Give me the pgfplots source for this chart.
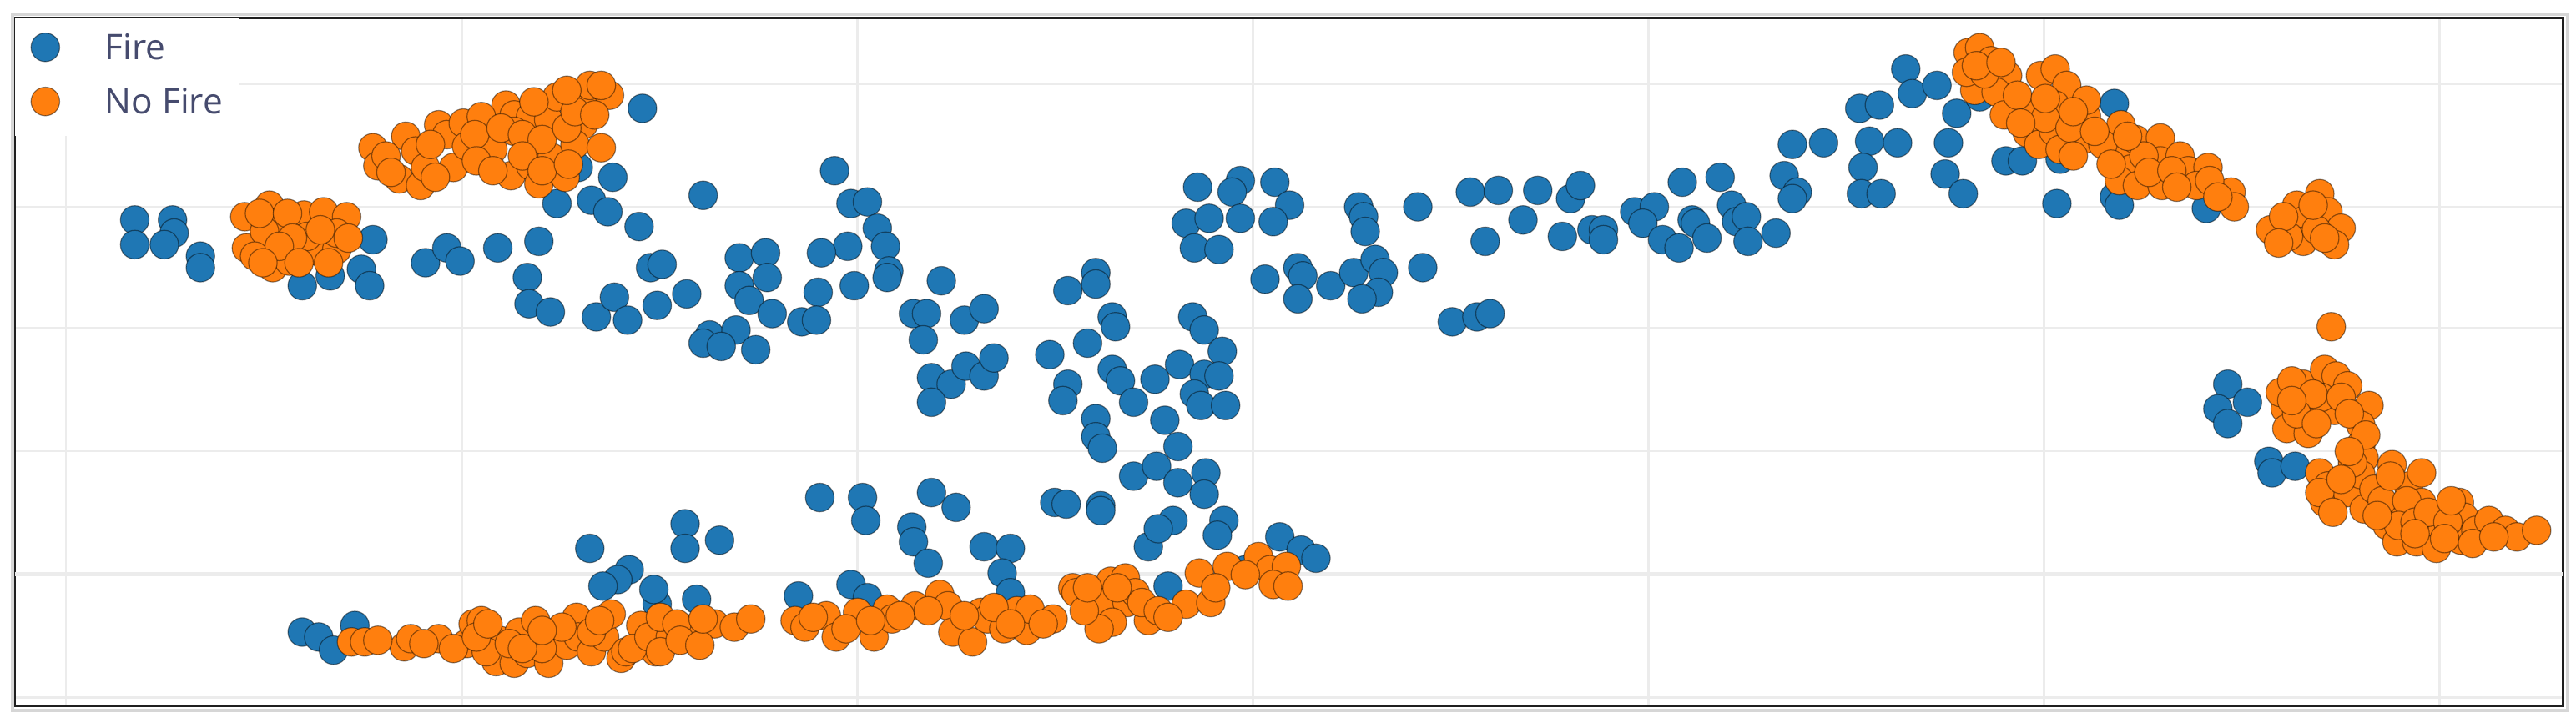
\documentclass[border=0pt]{standalone}
\usepackage{fontspec}
\setmainfont{Open Sans}
\usepackage{pgfplots}
\pgfplotsset{compat=1.18}
\usetikzlibrary{calc}
\definecolor{fireblue}{RGB}{31,119,180}
\definecolor{nofireorange}{RGB}{255,127,14}
\definecolor{gridgray}{RGB}{236,236,236}
\definecolor{shadowgray}{RGB}{214,214,214}
\definecolor{legendtext}{RGB}{70,75,110}

\begin{document}
\begin{tikzpicture}
\begin{axis}[
  name=ax,
  x=1pt, y=1pt, y dir=reverse,
  xmin=9, xmax=1560, ymin=11, ymax=430,
  axis line style={line width=1.7pt, color=black!88},
  xtick={40.2,281,521.8,762.6,1003.4,1244.2,1485},
  ytick={51,126,200,274.7,425},
  extra y ticks={349.5},
  extra y tick labels={},
  extra y tick style={grid style={line width=2.6pt, color=gridgray}},
  xticklabels={}, yticklabels={},
  major tick length=0pt,
  grid=major,
  grid style={line width=1.3pt, color=gridgray},
  legend style={at={(axis cs:9,11)}, anchor=north west, draw=none, fill=white,
    inner xsep=9.9pt, inner ysep=7.5pt, outer sep=0pt,
    font=\fontsize{21.5}{21.5}\selectfont, text=legendtext, row sep=9pt,
    cells={anchor=base west},
    nodes={inner sep=0pt, text height=18pt, text depth=6pt, anchor=base west}},
  legend image code/.code={\path (-8.5pt,0pt) (36.1pt,0pt);
    \draw[#1] plot coordinates {(0pt,7.7pt)};},
]
% Fire
\addplot[only marks, mark=*, mark size=8.7pt,
  mark options={fill=fireblue, draw=black, draw opacity=0.45, line width=0.6pt}]
coordinates {
(82,134) (82,149) (105,134) (106,142) (100,149) (122,156) (122,163)
(227,146) (220,164) (225,174) (201,168) (184,174)
(259,160) (272,151) (280,159) (303,151) (328,147) (321,169) (322,185) (335,190)
(363,193) (374,181) (382,195) (396,163) (389,138)
(339,124) (360,122) (370,129) (373,108) (352,102) (391,66)
(428,119) (508,104) (518,124) (528,123) (534,139) (539,150) (516,150) (500,154)
(541,165) (540,169) (520,174) (498,178) (488,196) (497,195)
(403,161) (418,179) (400,186) (450,157) (466,154) (467,169) (450,174) (456,183)
(470,191) (432,204) (428,209) (448,201) (439,211) (460,213)
(573,171) (556,191) (564,191) (562,207) (587,195) (599,188)
(567,230) (579,234) (588,223) (599,229) (605,218) (567,245)
(650,177) (667,166) (667,173) (662,209) (639,216) (650,234) (647,244) (677,225)
(729,114) (755,110) (750,117) (776,111) (785,125) (722,136) (736,133) (755,133)
(775,135) (727,151) (742,152) (770,170) (790,163) (793,168) (790,182) (810,174)
(824,166) (837,158) (842,166) (839,178) (829,182) (827,126) (830,132) (831,141)
(863,126) (866,163) (895,117) (912,116) (936,116) (927,134) (904,147)
(884,196) (899,193) (907,191)
(677,193) (679,199) (726,193) (733,201) (744,214) (718,222) (733,228) (742,229)
(682,232) (703,231) (690,245) (727,240) (731,247) (746,247) (709,256) (717,272)
(667,255) (667,266) (671,273) (690,290) (704,284) (717,294) (734,288) (733,301)
(670,308)
(714,317) (745,317) (741,326) (779,327) (792,335) (801,340) (758,347) (711,357)
(417,319) (417,334) (438,329) (499,303) (525,303) (527,317) (567,300) (582,309)
(555,321) (556,330) (565,343) (599,333) (615,334) (610,349) (615,361)
(642,306) (649,307) (670,311) (699,333) (705,322)
(400,368) (424,365) (486,363) (518,356) (528,364)
(184,385) (194,388) (203,396) (216,381)
(359,334) (383,347) (376,353) (367,357) (398,359)
(956,121) (962,113) (951,144) (969,140) (976,140) (976,146) (995,129) (1007,126)
(1000,136) (1012,146) (1022,151) (1024,111) (1030,134) (1032,136) (1039,145)
(1047,108) (1054,125) (1057,135) (1063,132) (1064,147) (1081,142)
(1091,88) (1110,87) (1086,107) (1094,117) (1091,121) (1138,86) (1155,87)
(1134,102) (1133,118) (1145,118) (1186,87) (1184,106) (1195,118)
(1160,42) (1164,57) (1179,52) (1132,66) (1144,64) (1191,69) (1205,59)
(1221,98) (1231,98) (1254,97) (1287,63) (1252,124) (1287,120) (1290,125) (1343,127)
(1356,234) (1350,249) (1368,245) (1356,258) (1381,281) (1383,288) (1397,284)
};
\addlegendentry{Fire}
% No Fire
\addplot[only marks, mark=*, mark size=8.7pt,
  mark options={fill=nofireorange, draw=black, draw opacity=0.45, line width=0.6pt}]
coordinates {
(149,132) (164,125) (170,135) (185,131) (197,129) (211,132) (150,151) (166,163)
(176,159) (193,153) (205,152) (187,144) (205,142) (161,141) (155,156)
(158,130) (175,130) (178,145) (195,140) (200,160) (170,150) (182,160) (160,160) (212,145)
(227,90) (230,101) (243,109) (256,113) (247,83) (253,92) (267,76) (272,82)
(276,102) (282,75) (295,79) (300,91) (284,89) (308,64) (313,70) (323,71)
(334,73) (311,107) (323,101) (328,112) (336,96) (344,108) (339,59) (355,59)
(359,52) (371,58) (355,76) (350,88) (366,90) (313,80) (259,102) (293,71)
(235,95) (262,88) (289,82) (305,78) (318,82) (330,85) (345,78) (350,68) (362,70)
(238,105) (265,108) (290,98) (318,95) (300,104) (330,104) (346,100) (325,62)
(345,55) (366,52)
(214,391) (222,391) (246,394) (250,389) (267,389) (284,392) (288,380) (293,378)
(302,403) (304,390) (313,404) (316,385) (321,398) (326,378) (334,404) (339,388)
(345,393) (351,376) (352,388) (360,397) (368,388) (372,374) (378,401) (381,397)
(390,381) (399,397)
(230,390) (258,392) (276,395) (296,397) (310,392) (330,395) (342,382) (360,385)
(365,378) (385,395) (395,388) (408,388) (420,383) (435,380) (290,388) (297,380)
(318,395) (330,384)
(402,376) (412,380) (402,397) (414,390) (426,393) (428,377) (447,382) (457,377)
(484,378) (490,382) (503,375) (509,388) (522,373) (532,388) (540,371) (543,377)
(557,369) (572,362) (577,369) (580,385) (592,391) (597,373) (601,377) (611,383)
(619,372) (625,384) (627,371) (641,377) (653,358) (655,361) (676,354) (685,352)
(672,367) (686,367) (677,379) (669,383) (699,378) (691,361)
(495,376) (515,383) (530,378) (548,375) (565,372) (587,375) (605,370) (615,380)
(635,380) (660,372) (662,358) (680,358) (695,367) (705,372)
(730,349) (747,345) (766,339) (773,347) (783,345) (775,356) (784,357) (722,368)
(737,367) (711,376) (740,358) (758,350)
(1198,32) (1205,29) (1212,37) (1202,55) (1197,44) (1222,46) (1215,56) (1220,70)
(1234,81) (1241,88) (1242,46) (1251,42) (1258,52) (1251,64) (1250,80) (1254,91)
(1268,85) (1270,71) (1270,61) (1236,66) (1291,76) (1292,90) (1300,85) (1315,84)
(1315,98) (1297,103) (1290,110) (1301,113) (1316,113) (1327,95) (1332,104)
(1344,102) (1337,113) (1358,117) (1360,126)
(1208,45) (1228,58) (1245,72) (1260,78) (1262,95) (1245,60) (1230,75) (1280,88)
(1305,95) (1285,100) (1308,105) (1322,104) (1325,114) (1345,110) (1350,120)
(1203,40) (1218,38) (1262,68) (1275,80) (1295,83)
(1382,140) (1398,125) (1412,118) (1403,134) (1417,129) (1425,139) (1402,147)
(1421,149) (1393,144) (1390,132) (1410,140) (1408,125) (1415,145) (1387,148)
(1419,199)
(1402,234) (1415,225) (1422,229) (1429,235) (1391,249) (1403,254) (1421,250)
(1392,261) (1405,264) (1413,242) (1442,247) (1437,259) (1437,271) (1439,279)
(1388,239) (1412,288) (1417,296) (1415,306) (1429,300) (1437,289) (1439,310)
(1456,283) (1466,296) (1474,288) (1474,306) (1461,311) (1453,320) (1459,330)
(1471,330) (1481,320) (1483,334) (1497,306) (1500,315) (1498,329) (1507,323)
(1515,317) (1525,323) (1532,327) (1544,323) (1412,300)
(1395,232) (1408,240) (1425,242) (1398,252) (1410,258) (1430,252) (1440,265)
(1432,282) (1425,292) (1445,298) (1450,305) (1465,305) (1460,320) (1470,318)
(1478,312) (1490,318) (1488,328) (1505,331) (1518,327) (1492,305) (1447,314)
(1420,312) (1455,290) (1470,325) (1395,244) (1430,275)
};
\addlegendentry{No Fire}
\end{axis}
\draw[line width=2pt, color=shadowgray]
  ($(ax.south west)+(-1.5pt,-2.6pt)$) rectangle ($(ax.north east)+(3pt,2.5pt)$);
\pgfresetboundingbox
\path[use as bounding box] ($(ax.south west)+(-9pt,-10pt)$) rectangle ($(ax.north east)+(8pt,11pt)$);
\end{tikzpicture}
\end{document}
